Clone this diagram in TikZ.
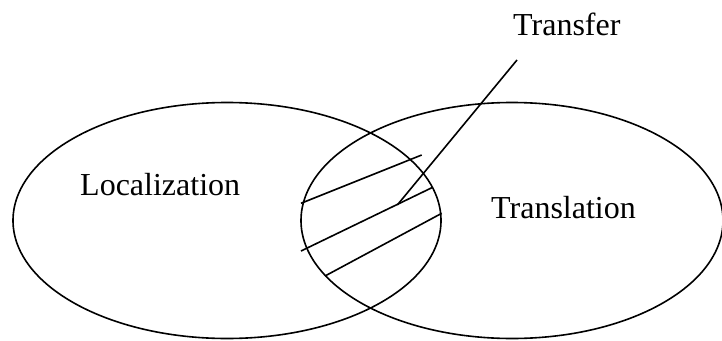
\documentclass[tikz,border=0pt]{standalone}
\usepackage{fontspec}
\setmainfont{Liberation Serif}
\usetikzlibrary{shapes.geometric}
\begin{document}
\begin{tikzpicture}[x=1pt,y=-1pt,
  outline/.style={draw,line width=1.6pt},
  setshape/.style={ellipse,draw,line width=1.6pt,inner sep=0pt,minimum width=428pt,minimum height=236pt},
  lbl/.style={font=\fontsize{32}{38}\selectfont,inner sep=0pt,anchor=base west}]
\useasboundingbox (0,0) rectangle (722,340);
\node[setshape] (loc) at (227,220.5) {};
\node[setshape,minimum width=422pt] (tra) at (512,220.5) {};
\node[lbl] (loctext) at (80,195) {Localization};
\node[lbl] (tratext) at (491,218) {Translation};
\node[lbl] (trftext) at (513,35) {Transfer};
\coordinate (h1a) at (301,203.3); \coordinate (h1b) at (421.7,155);
\coordinate (h2a) at (301,251);   \coordinate (h2b) at (432.7,187.3);
\coordinate (h3a) at (325,276);   \coordinate (h3b) at (441.7,213.3);
\coordinate (pa) at (397.3,205);  \coordinate (pb) at (517,60);
\draw[outline] (h1a) -- (h1b);
\draw[outline] (h2a) -- (h2b);
\draw[outline] (h3a) -- (h3b);
\draw[outline] (pa) -- (pb);
\end{tikzpicture}
\end{document}
